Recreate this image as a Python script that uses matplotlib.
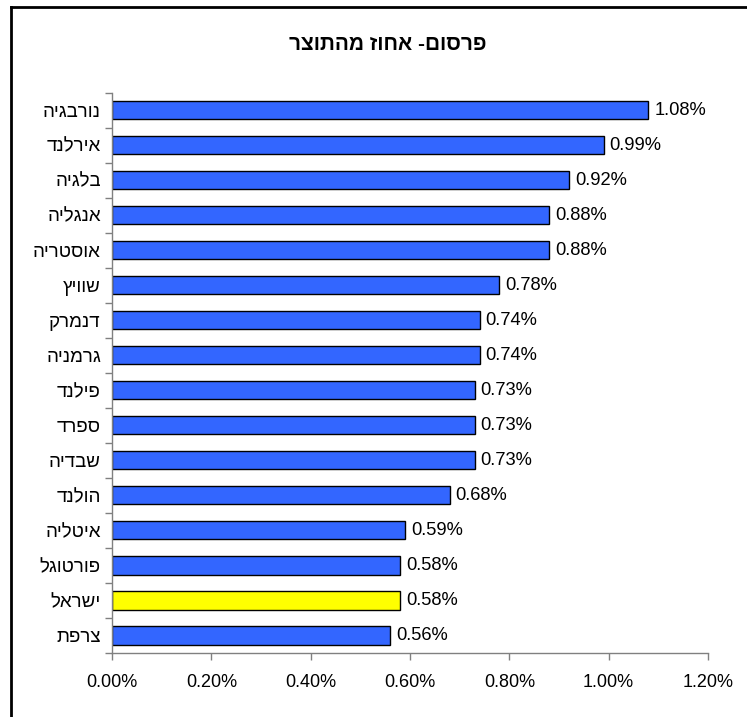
import matplotlib
matplotlib.use("Agg")
import matplotlib.pyplot as plt
from matplotlib.lines import Line2D
from matplotlib.ticker import FixedLocator, PercentFormatter

plt.rcParams['font.family'] = ['Liberation Sans', 'DejaVu Sans']

# Advertising spend as percent of GDP, top to bottom
title = "פרסום- אחוז מהתוצר"
countries = ["נורבגיה", "אירלנד", "בלגיה", "אנגליה", "אוסטריה", "שוויץ",
             "דנמרק", "גרמניה", "פילנד", "ספרד", "שבדיה", "הולנד",
             "איטליה", "פורטוגל", "ישראל", "צרפת"]
values = [1.08, 0.99, 0.92, 0.88, 0.88, 0.78, 0.74, 0.74, 0.73, 0.73,
          0.73, 0.68, 0.59, 0.58, 0.58, 0.56]
highlight = "ישראל"
x_ticks = [0.0, 0.2, 0.4, 0.6, 0.8, 1.0, 1.2]


def visual(s):
    # matplotlib lays glyphs left to right, so flip RTL strings
    return s[::-1]


W, H = 747, 717
fig = plt.figure(figsize=(W / 100, H / 100), dpi=100)
fig.patch.set_facecolor('white')

# outer frame (left and top edges)
fig.add_artist(Line2D([11 / W, 11 / W], [0, 1 - 7 / H], color='black', lw=2.0))
fig.add_artist(Line2D([11 / W, 1], [1 - 7 / H, 1 - 7 / H], color='black', lw=2.0))

ax = fig.add_axes([112 / W, 64 / H, (708 - 112) / W, (653 - 92.5) / H])

n = len(countries)
colors = ['#FFFF00' if c == highlight else '#3366FF' for c in countries]
bars = ax.barh(range(n), values, height=0.52, color=colors,
               edgecolor='black', linewidth=1.0)

for i, v in enumerate(values):
    ax.text(v + 0.012, i, f"{v:.2f}%", va='center', ha='left',
            fontsize=13.2, color='black')

ax.set_ylim(n - 0.5, -0.5)
ax.set_xlim(0, 1.2)

ax.set_yticks(range(n))
ax.set_yticklabels([visual(c) for c in countries], fontsize=13.5)
ax.tick_params(axis='y', which='major', length=0, pad=8)
ax.yaxis.set_minor_locator(FixedLocator([i - 0.5 for i in range(n + 1)]))
ax.tick_params(axis='y', which='minor', length=5, color='#808080', width=1)

ax.set_xticks(x_ticks)
ax.xaxis.set_major_formatter(PercentFormatter(decimals=2))
ax.tick_params(axis='x', length=5, color='#808080', width=1, pad=10, labelsize=13)

for side in ['top', 'right']:
    ax.spines[side].set_visible(False)
for side in ['left', 'bottom']:
    ax.spines[side].set_color('#808080')
    ax.spines[side].set_linewidth(1.0)

fig.text(388 / W, 1 - 45 / H, visual(title), ha='center', va='center',
         fontsize=15, fontweight='bold')

fig.savefig("out.png", dpi=100, facecolor='white')
